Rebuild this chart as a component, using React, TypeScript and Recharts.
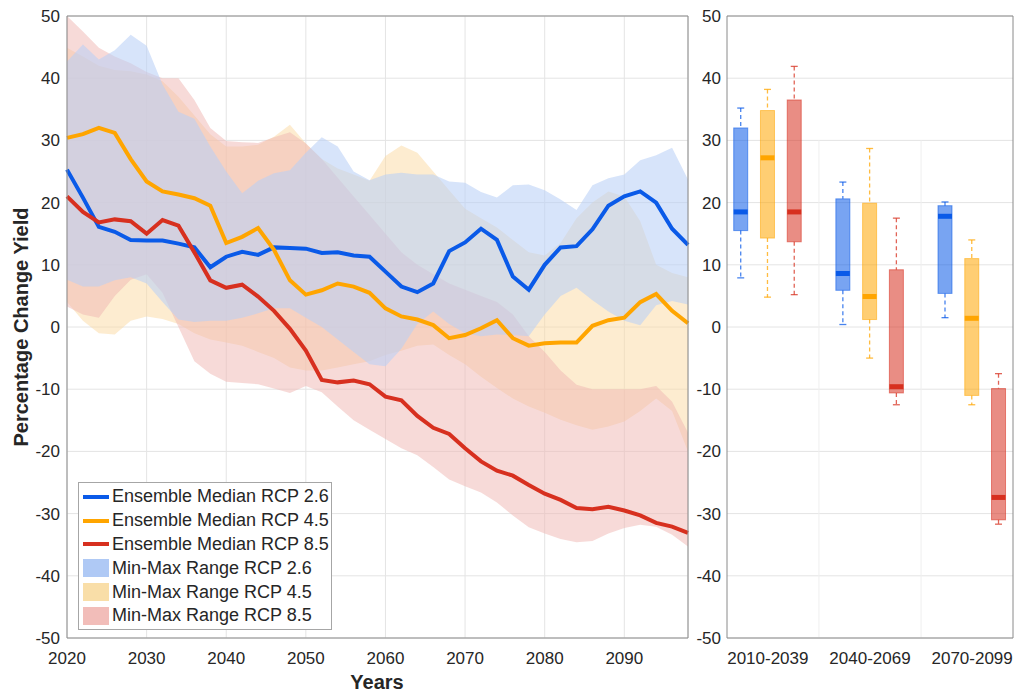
import React from 'react';
import { ComposedChart, Area, Line, Bar, XAxis, YAxis, CartesianGrid, ReferenceLine } from 'recharts';

// ---- time series (2-year steps) ----
const years = [2020, 2022, 2024, 2026, 2028, 2030, 2032, 2034, 2036, 2038, 2040, 2042, 2044, 2046, 2048, 2050, 2052, 2054, 2056, 2058, 2060, 2062, 2064, 2066, 2068, 2070, 2072, 2074, 2076, 2078, 2080, 2082, 2084, 2086, 2088, 2090, 2092, 2094, 2096, 2098];

const median26 = [25.3, 20.8, 16.1, 15.3, 14.0, 13.9, 13.9, 13.4, 12.8, 9.6, 11.3, 12.1, 11.6, 12.8, 12.7, 12.6, 11.9, 12.0, 11.5, 11.3, 8.9, 6.5, 5.6, 7.0, 12.2, 13.6, 15.8, 14.0, 8.1, 6.0, 10.0, 12.8, 13.0, 15.7, 19.5, 21.0, 21.8, 20.0, 15.8, 13.2];
const median45 = [30.4, 31.0, 32.0, 31.2, 27.0, 23.4, 21.8, 21.3, 20.7, 19.5, 13.5, 14.5, 15.9, 12.4, 7.5, 5.2, 5.9, 7.0, 6.5, 5.5, 3.0, 1.7, 1.2, 0.3, -1.8, -1.3, -0.2, 1.1, -1.8, -3.0, -2.6, -2.5, -2.5, 0.2, 1.1, 1.5, 4.0, 5.3, 2.6, 0.6];
const median85 = [21.0, 18.5, 16.8, 17.3, 17.0, 15.0, 17.2, 16.3, 12.0, 7.5, 6.3, 6.8, 4.9, 2.6, -0.3, -3.8, -8.5, -8.9, -8.6, -9.2, -11.2, -11.8, -14.3, -16.2, -17.2, -19.5, -21.6, -23.1, -23.9, -25.4, -26.8, -27.8, -29.1, -29.3, -28.9, -29.5, -30.3, -31.5, -32.1, -33.1];

const upper26 = [42.7, 45.4, 43.0, 44.5, 47.0, 45.2, 39.0, 34.6, 33.5, 29.0, 25.0, 21.5, 23.5, 24.7, 25.2, 28.0, 30.5, 29.0, 25.0, 23.6, 24.5, 24.8, 24.5, 24.5, 23.4, 23.2, 21.7, 20.8, 22.8, 22.9, 22.0, 20.5, 18.8, 22.8, 23.9, 24.5, 26.8, 27.6, 28.8, 23.7];
const lower26 = [7.6, 6.5, 6.5, 7.5, 8.0, 7.0, 4.0, 1.2, 0.8, 1.0, 1.0, 1.5, 2.2, 3.0, 3.0, 1.5, 0.0, -2.0, -4.0, -6.0, -6.3, -3.5, 0.5, 2.5, 0.5, -1.0, -1.5, -1.2, -1.3, -1.5, 2.0, 5.0, 6.3, 4.3, 2.5, 1.0, 0.3, 3.5, 4.2, 3.6];
const upper45 = [44.9, 43.5, 42.0, 41.3, 41.1, 40.6, 39.5, 37.0, 34.0, 31.0, 29.0, 29.0, 29.3, 30.6, 32.5, 29.5, 27.0, 25.5, 24.5, 23.5, 27.5, 29.2, 28.0, 25.0, 22.0, 19.0, 17.5, 16.0, 14.0, 12.0, 11.5, 13.5, 17.5, 20.0, 21.8, 21.0, 17.0, 10.0, 8.7, 8.0];
const lower45 = [4.0, 1.0, -1.0, -1.2, 1.0, 1.7, 1.3, 0.5, -1.0, -2.0, -2.5, -3.0, -4.0, -5.0, -6.5, -7.0, -7.0, -6.5, -6.0, -5.5, -4.5, -3.8, -3.0, -2.8, -4.5, -6.0, -8.0, -9.8, -11.5, -12.8, -13.8, -14.9, -15.8, -16.5, -16.0, -15.2, -13.5, -11.5, -13.5, -20.0];
const upper85 = [50.0, 47.5, 44.9, 43.5, 42.4, 41.0, 40.0, 40.0, 36.5, 32.0, 29.9, 29.7, 29.6, 30.5, 31.3, 29.5, 27.0, 24.0, 21.0, 18.0, 15.0, 12.0, 10.0, 8.5, 7.0, 6.0, 5.0, 4.0, 2.0, -1.5, -4.0, -7.0, -9.3, -10.0, -10.0, -10.0, -10.0, -9.5, -12.0, -17.0];
const lower85 = [3.3, 2.0, 1.5, 5.0, 7.6, 8.5, 5.5, 0.0, -5.5, -7.5, -8.8, -9.0, -9.2, -9.9, -10.6, -9.5, -10.5, -12.8, -15.0, -16.5, -18.0, -19.5, -20.6, -22.5, -24.5, -25.6, -26.6, -28.2, -30.3, -32.2, -33.2, -34.1, -34.6, -34.4, -33.2, -32.3, -31.8, -32.1, -33.4, -35.3];

// ---- box plot statistics per 30-year period ----
const periods = ['2010-2039', '2040-2069', '2070-2099'];
const whiskerLow26 = [7.9, 0.4, 1.5];
const q1_26 = [15.5, 5.9, 5.4];
const med26 = [18.5, 8.6, 17.8];
const q3_26 = [32.0, 20.6, 19.5];
const whiskerHigh26 = [35.2, 23.3, 20.1];

const whiskerLow45 = [4.8, -5.0, -12.5];
const q1_45 = [14.3, 1.2, -11.0];
const med45 = [27.2, 4.9, 1.4];
const q3_45 = [34.8, 19.9, 11.0];
const whiskerHigh45 = [38.2, 28.7, 14.0];

const whiskerLow85 = [5.2, -12.5, -31.7];
const q1_85 = [13.7, -10.6, -31.0];
const med85 = [18.5, -9.6, -27.4];
const q3_85 = [36.5, 9.2, -9.9];
const whiskerHigh85 = [41.9, 17.5, -7.5];

const yearTicks = [2020, 2030, 2040, 2050, 2060, 2070, 2080, 2090];
const valueTicks = [-50, -40, -30, -20, -10, 0, 10, 20, 30, 40, 50];

const BLUE = '#0A5AE8';
const ORANGE = '#FFA500';
const RED = '#D7301F';
// pale band colours (drawn with partial opacity)
const BLUE_BAND = '#B9D0F6';
const ORANGE_BAND = '#FBD9A1';
const RED_BAND = '#EFB5B1';
// legend swatches
const BLUE_PATCH = '#AFC9F5';
const ORANGE_PATCH = '#F9DEA8';
const RED_PATCH = '#F2BDB9';

const TEXT = '#262626';
const FRAME = '#8a8a8a';
const GRID = '#e4e4e4';
const FONT = '"Liberation Sans", Arial, sans-serif';

const rows = years.map((year, i) => ({
  year,
  m26: median26[i],
  m45: median45[i],
  m85: median85[i],
  r26: [lower26[i], upper26[i]],
  r45: [lower45[i], upper45[i]],
  r85: [lower85[i], upper85[i]],
}));

const scenarioColors = [BLUE, ORANGE, RED];
const scenarioStats = [
  { lo: whiskerLow26, q1: q1_26, med: med26, q3: q3_26, hi: whiskerHigh26 },
  { lo: whiskerLow45, q1: q1_45, med: med45, q3: q3_45, hi: whiskerHigh45 },
  { lo: whiskerLow85, q1: q1_85, med: med85, q3: q3_85, hi: whiskerHigh85 },
];
const boxOffset = [-0.262, 0, 0.262];

const boxRows = periods.flatMap((_, g) =>
  scenarioStats.map((s, k) => ({
    x: g + 1 + boxOffset[k],
    scenario: k,
    lo: s.lo[g],
    q1: s.q1[g],
    med: s.med[g],
    q3: s.q3[g],
    hi: s.hi[g],
    range: [s.lo[g], s.hi[g]],
  }))
);

const BoxShape = (props: any) => {
  const { x, y, width, height, payload } = props;
  if (!payload) return null;
  const top = Math.min(y, y + height);
  const span = Math.abs(height);
  const toPx = (v: number) => top + ((payload.hi - v) / (payload.hi - payload.lo)) * span;
  const color = scenarioColors[payload.scenario];
  const cx = x + width / 2;
  const yHi = toPx(payload.hi);
  const yQ3 = toPx(payload.q3);
  const yMed = toPx(payload.med);
  const yQ1 = toPx(payload.q1);
  const yLo = toPx(payload.lo);
  const cap = 3.5;
  return (
    <g>
      <line x1={cx} x2={cx} y1={yHi} y2={yQ3} stroke={color} strokeOpacity={0.75} strokeWidth={1.3} strokeDasharray="4 3" />
      <line x1={cx} x2={cx} y1={yQ1} y2={yLo} stroke={color} strokeOpacity={0.75} strokeWidth={1.3} strokeDasharray="4 3" />
      <line x1={cx - cap} x2={cx + cap} y1={yHi} y2={yHi} stroke={color} strokeOpacity={0.75} strokeWidth={1.3} />
      <line x1={cx - cap} x2={cx + cap} y1={yLo} y2={yLo} stroke={color} strokeOpacity={0.75} strokeWidth={1.3} />
      <rect x={x} y={yQ3} width={width} height={yQ1 - yQ3} fill={color} fillOpacity={0.55} stroke={color} strokeOpacity={0.55} strokeWidth={1} />
      <rect x={x} y={yMed - 2.5} width={width} height={5} fill={color} />
    </g>
  );
};

const legendItems = [
  { label: 'Ensemble Median RCP 2.6', color: BLUE, patch: false },
  { label: 'Ensemble Median RCP 4.5', color: ORANGE, patch: false },
  { label: 'Ensemble Median RCP 8.5', color: RED, patch: false },
  { label: 'Min-Max Range RCP 2.6', color: BLUE_PATCH, patch: true },
  { label: 'Min-Max Range RCP 4.5', color: ORANGE_PATCH, patch: true },
  { label: 'Min-Max Range RCP 8.5', color: RED_PATCH, patch: true },
];

const tickStyle = { fill: TEXT, fontSize: 17 };

export default function App() {
  return (
    <div style={{ position: 'absolute', left: 0, top: 0, width: 1016, height: 694, background: '#fff', fontFamily: FONT }}>
      <div style={{ position: 'absolute', left: 0, top: 0 }}>
        <ComposedChart width={700} height={694} data={rows} margin={{ top: 16, right: 12, bottom: 26, left: 7 }}>
          <CartesianGrid stroke={GRID} />
          <XAxis
            dataKey="year"
            type="number"
            domain={[2020, 2098]}
            ticks={yearTicks}
            height={30}
            tickLine={false}
            tickSize={6}
            tickMargin={8}
            axisLine={{ stroke: FRAME }}
            tick={tickStyle}
          />
          <YAxis
            type="number"
            domain={[-50, 50]}
            ticks={valueTicks}
            width={60}
            tickLine={false}
            tickSize={5}
            tickMargin={2}
            axisLine={{ stroke: FRAME }}
            tick={tickStyle}
            allowDataOverflow
          />
          <Area dataKey="r45" type="linear" stroke="none" fill={ORANGE_BAND} fillOpacity={0.5} isAnimationActive={false} activeDot={false} />
          <Area dataKey="r85" type="linear" stroke="none" fill={RED_BAND} fillOpacity={0.5} isAnimationActive={false} activeDot={false} />
          <Area dataKey="r26" type="linear" stroke="none" fill={BLUE_BAND} fillOpacity={0.57} isAnimationActive={false} activeDot={false} />
          <Line dataKey="m26" type="linear" stroke={BLUE} strokeWidth={4} dot={false} activeDot={false} isAnimationActive={false} />
          <Line dataKey="m45" type="linear" stroke={ORANGE} strokeWidth={4} dot={false} activeDot={false} isAnimationActive={false} />
          <Line dataKey="m85" type="linear" stroke={RED} strokeWidth={4} dot={false} activeDot={false} isAnimationActive={false} />
          <ReferenceLine y={50} stroke={FRAME} />
          <ReferenceLine x={2098} stroke={FRAME} />
        </ComposedChart>
      </div>

      <div style={{ position: 'absolute', left: 680, top: 0 }}>
        <ComposedChart width={336} height={694} data={boxRows} margin={{ top: 16, right: 3, bottom: 26, left: 7 }}>
          <CartesianGrid stroke={GRID} vertical={false} />
          <ReferenceLine segment={[{ x: 1.5, y: -50 }, { x: 1.5, y: 30 }]} stroke="#efefef" />
          <ReferenceLine segment={[{ x: 2.5, y: -50 }, { x: 2.5, y: 30 }]} stroke="#efefef" />
          <XAxis
            dataKey="x"
            type="number"
            domain={[0.6, 3.4]}
            ticks={[1, 2, 3]}
            tickFormatter={(v: number) => periods[Math.round(v) - 1]}
            height={30}
            tickLine={false}
            tickSize={6}
            tickMargin={8}
            axisLine={{ stroke: FRAME }}
            tick={tickStyle}
          />
          <YAxis
            type="number"
            domain={[-50, 50]}
            ticks={valueTicks}
            width={40}
            tickLine={false}
            tickSize={5}
            tickMargin={1}
            axisLine={{ stroke: FRAME }}
            tick={tickStyle}
          />
          <Bar dataKey="range" barSize={14} shape={BoxShape} isAnimationActive={false} />
          <ReferenceLine y={50} stroke={FRAME} />
          <ReferenceLine x={3.4} stroke={FRAME} />
        </ComposedChart>
      </div>

      <div
        style={{
          position: 'absolute',
          left: 21 - 160,
          top: 327 - 12,
          width: 320,
          height: 24,
          lineHeight: '24px',
          textAlign: 'center',
          transform: 'rotate(-90deg)',
          fontSize: 20,
          fontWeight: 'bold',
          color: TEXT,
        }}
      >
        Percentage Change Yield
      </div>
      <div
        style={{
          position: 'absolute',
          left: 327,
          top: 670,
          width: 100,
          lineHeight: '24px',
          textAlign: 'center',
          fontSize: 20,
          fontWeight: 'bold',
          color: TEXT,
        }}
      >
        Years
      </div>

      <div
        style={{
          position: 'absolute',
          left: 78,
          top: 482,
          width: 252,
          height: 144,
          border: '1px solid #a6a6a6',
          background: '#fff',
          paddingTop: 2,
          boxSizing: 'content-box',
        }}
      >
        {legendItems.map((it) => (
          <div key={it.label} style={{ display: 'flex', alignItems: 'center', height: 23.8 }}>
            <div style={{ width: 4 }} />
            {it.patch ? (
              <div style={{ width: 26, height: 18, background: it.color }} />
            ) : (
              <div style={{ width: 26, height: 4, background: it.color }} />
            )}
            <span style={{ marginLeft: 3, fontSize: 18, color: TEXT, whiteSpace: 'nowrap' }}>{it.label}</span>
          </div>
        ))}
      </div>
    </div>
  );
}
